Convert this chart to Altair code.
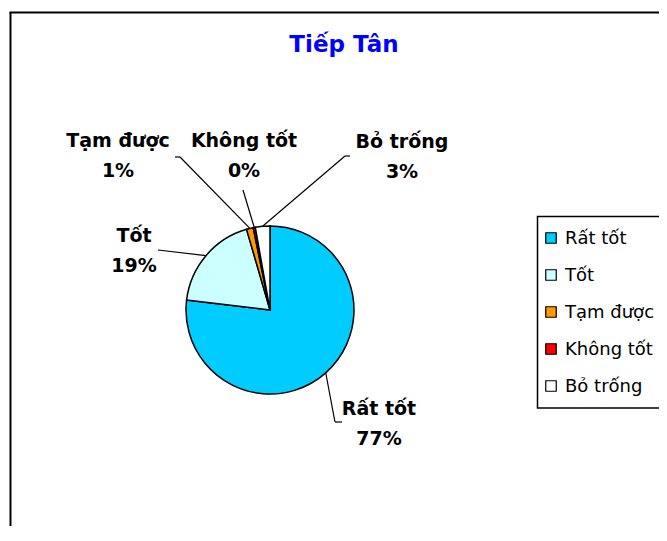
import altair as alt
import pandas as pd

# ---------------- data ----------------
categories = ["Rất tốt", "Tốt", "Tạm được", "Không tốt", "Bỏ trống"]
values = [76.9, 18.6, 1.3, 0.4, 2.8]
pct_labels = ["77%", "19%", "1%", "0%", "3%"]
colors = ["#00CCFF", "#CCFFFF", "#FF9900", "#FF0000", "#FFFFFF"]
title_text = "Tiếp Tân"

# ---------------- layout (pixels, chart coordinates) ----------------
W, H = 651, 518
CX, CY, R = 262, 302, 84
# label text anchor (relative to pie centre): x centre, name baseline
label_dx = [109, -136, -152, -26, 132]
label_dy = [105, -68, -163, -163, -162]
# leader elbow (relative to pie centre) and horizontal stub length
elbow_dx = [65, -112, -90, -27, 75]
elbow_dy = [112, -60, -153, -120, -154]
stub_len = [7, 0, -5, 0, 5]
LEG_X, LEG_TOP, LEG_STEP = 543, 230, 37
FONT = "DejaVu Sans"

df = pd.DataFrame({
    "category": categories,
    "value": values,
    "pct": pct_labels,
    "order": list(range(len(categories))),
    "ldx": label_dx,
    "ldy": label_dy,
    "edx": elbow_dx,
    "edy": elbow_dy,
    "stub": stub_len,
})

color_scale = alt.Scale(domain=categories, range=colors)

base = alt.Chart(df).transform_joinaggregate(
    total="sum(value)"
).transform_window(
    cum="sum(value)", sort=[alt.SortField("order")], frame=[None, 0]
).transform_calculate(
    mid="(datum.cum - datum.value/2)/datum.total*2*PI",
    ex=f"{CX} + {R}*sin(datum.mid)",
    ey=f"{CY} - {R}*cos(datum.mid)",
    elx=f"{CX} + datum.edx",
    ely=f"{CY} + datum.edy",
    slx=f"{CX} + datum.edx + datum.stub",
    tx=f"{CX} + datum.ldx",
    ty=f"{CY} + datum.ldy",
    lgy=f"{LEG_TOP} + datum.order*{LEG_STEP}",
)

one = alt.Chart(pd.DataFrame({"k": [0]}))

frame_left = one.mark_rule(color="black", strokeWidth=2).encode(
    x=alt.value(2.5), y=alt.value(4), y2=alt.value(H + 10)
)
frame_top = one.mark_rule(color="black", strokeWidth=2).encode(
    x=alt.value(1.5), x2=alt.value(W + 10), y=alt.value(4.5)
)

legend_box = one.mark_rect(fill="white", stroke="black", strokeWidth=1.5).encode(
    x=alt.value(529.5), x2=alt.value(W + 20), y=alt.value(208.5),
    y2=alt.value(LEG_TOP + 4 * LEG_STEP + 22)
)

pie = alt.Chart(df).mark_arc(radius=R, stroke="black", strokeWidth=1.5).encode(
    theta=alt.Theta("value:Q", stack=True),
    color=alt.Color("category:N", scale=color_scale, legend=None),
    order=alt.Order("order:Q"),
    x=alt.value(CX),
    y=alt.value(CY),
)

leader = base.mark_rule(color="black", strokeWidth=1.2).encode(
    x=alt.X("ex:Q", scale=None, axis=None),
    y=alt.Y("ey:Q", scale=None, axis=None),
    x2="elx:Q",
    y2="ely:Q",
)
stub = base.mark_rule(color="black", strokeWidth=1.2).encode(
    x=alt.X("elx:Q", scale=None, axis=None),
    y=alt.Y("ely:Q", scale=None, axis=None),
    x2="slx:Q",
)

name_text = base.mark_text(
    font=FONT, fontSize=19, fontWeight="bold", color="black",
    align="center", baseline="alphabetic"
).encode(
    x=alt.X("tx:Q", scale=None, axis=None),
    y=alt.Y("ty:Q", scale=None, axis=None),
    text="category:N",
)
pct_text = base.mark_text(
    font=FONT, fontSize=19, fontWeight="bold", color="black",
    align="center", baseline="alphabetic", dy=30
).encode(
    x=alt.X("tx:Q", scale=None, axis=None),
    y=alt.Y("ty:Q", scale=None, axis=None),
    text="pct:N",
)

title = one.mark_text(
    font=FONT, fontSize=23, fontWeight="bold", color="#0000FF",
    align="center", baseline="alphabetic"
).encode(
    x=alt.value(336), y=alt.value(44), text=alt.value(title_text)
)

leg_sq = base.mark_square(size=110, stroke="black", strokeWidth=1.2, opacity=1).encode(
    x=alt.value(LEG_X),
    y=alt.Y("lgy:Q", scale=None, axis=None),
    color=alt.Color("category:N", scale=color_scale, legend=None),
)
leg_text = base.mark_text(
    font=FONT, fontSize=18, color="black", align="left", baseline="alphabetic", dy=6
).encode(
    x=alt.value(LEG_X + 14),
    y=alt.Y("lgy:Q", scale=None, axis=None),
    text="category:N",
)

chart = alt.layer(
    frame_left, frame_top, legend_box, pie, leader, stub,
    name_text, pct_text, title, leg_sq, leg_text
).properties(
    width=W, height=H, padding=0, autosize=alt.AutoSizeParams(type="none"),
    background="white"
).configure_view(stroke=None)

chart.save("out.html", embed_options={"renderer": "svg", "actions": False})
